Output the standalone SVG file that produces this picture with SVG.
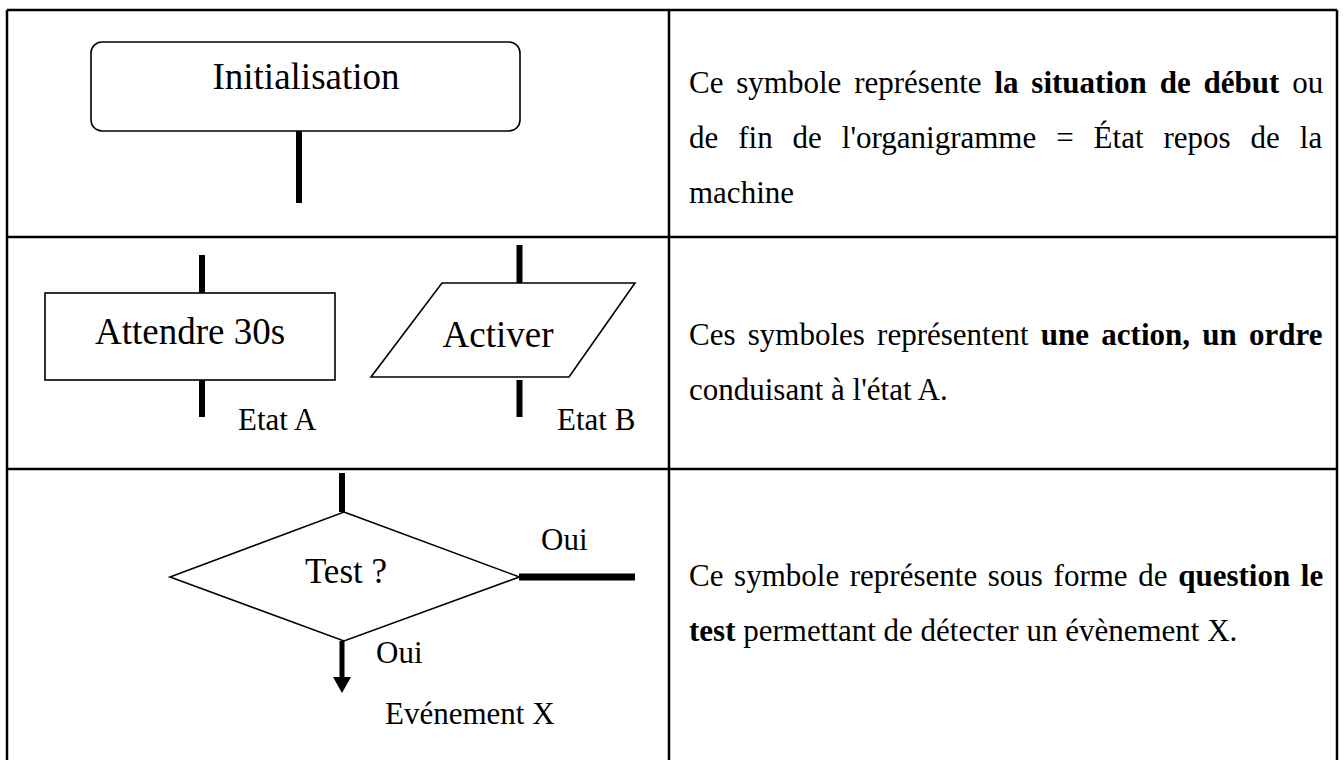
<svg xmlns="http://www.w3.org/2000/svg" width="1343" height="760" viewBox="0 0 1343 760">
  <style>
    .grid { stroke: #000; stroke-width: 2.5; fill: none; }
    .shape { stroke: #000; stroke-width: 1.6; fill: #fff; }
    .stub { stroke: #000; stroke-width: 6; fill: none; }
    .t { font-family: "Liberation Serif", "Times New Roman", serif; fill: #000; }
    .big { font-size: 37px; }
    .lbl { font-size: 31px; }
    .body { font-size: 31px; }
    .b { font-weight: bold; }
  </style>
  <rect width="1343" height="760" fill="#fff"/>

  <!-- table grid -->
  <g id="table">
    <line class="grid" x1="7" y1="10" x2="1337" y2="10"/>
    <line class="grid" x1="7" y1="237" x2="1337" y2="237"/>
    <line class="grid" x1="7" y1="469" x2="1337" y2="469"/>
    <line class="grid" x1="7" y1="10" x2="7" y2="760"/>
    <line class="grid" x1="669" y1="10" x2="669" y2="760"/>
    <line class="grid" x1="1337" y1="10" x2="1337" y2="760"/>
  </g>

  <!-- flow stubs and arrows -->
  <g id="connectors">
    <line class="stub" x1="299" y1="131" x2="299" y2="203"/>
    <line class="stub" x1="202" y1="255" x2="202" y2="293"/>
    <line class="stub" x1="202" y1="380" x2="202" y2="417"/>
    <line class="stub" x1="519.5" y1="245" x2="519.5" y2="283"/>
    <line class="stub" x1="519.5" y1="380" x2="519.5" y2="417"/>
    <line class="stub" x1="342" y1="473" x2="342" y2="512"/>
    <line class="stub" x1="519" y1="577" x2="635" y2="577" style="stroke-width:7"/>
    <line class="stub" x1="342" y1="641" x2="342" y2="678" style="stroke-width:5"/>
    <polygon points="333,677 351,677 342,693" fill="#000"/>
  </g>

  <g id="init">
    <rect class="shape" x="91" y="42" width="429" height="89" rx="11" ry="11"/>
    <text class="t big" x="306" y="89" text-anchor="middle">Initialisation</text>
  </g>

  <g id="wait">
    <rect class="shape" x="45" y="293" width="290" height="87"/>
    <text class="t big" x="190" y="344" text-anchor="middle">Attendre 30s</text>
    <text class="t lbl" x="238" y="430">Etat A</text>
  </g>

  <g id="activate">
    <polygon class="shape" points="442,283 635,283 569,377 371,377"/>
    <text class="t big" x="498" y="347" text-anchor="middle">Activer</text>
    <text class="t lbl" x="557" y="430">Etat B</text>
  </g>

  <g id="test">
    <polygon class="shape" points="344,512 519.5,577 344,641 170,577"/>
    <text class="t" x="346" y="583" text-anchor="middle" font-size="35">Test ?</text>
    <text class="t lbl" x="541" y="550">Oui</text>
    <text class="t lbl" x="376" y="663">Oui</text>
    <text class="t lbl" x="385" y="724">Evénement X</text>
  </g>

  <!-- descriptions -->
  <g id="desc-init">
    <text class="t body" x="689" y="93" word-spacing="5.1">Ce symbole représente <tspan class="b">la situation de début</tspan> ou</text>
    <text class="t body" x="689" y="148" word-spacing="12.2">de fin de l'organigramme = État repos de la</text>
    <text class="t body" x="689" y="203">machine</text>
  </g>
  <g id="desc-action">
    <text class="t body" x="689" y="345" word-spacing="4.5">Ces symboles représentent <tspan class="b">une action, un ordre</tspan></text>
    <text class="t body" x="689" y="400">conduisant à l'état A.</text>
  </g>
  <g id="desc-test">
    <text class="t body" x="689" y="586" word-spacing="2.9">Ce symbole représente sous forme de <tspan class="b">question le</tspan></text>
    <text class="t body" x="689" y="641"><tspan class="b">test</tspan> permettant de détecter un évènement X.</text>
  </g>
</svg>
